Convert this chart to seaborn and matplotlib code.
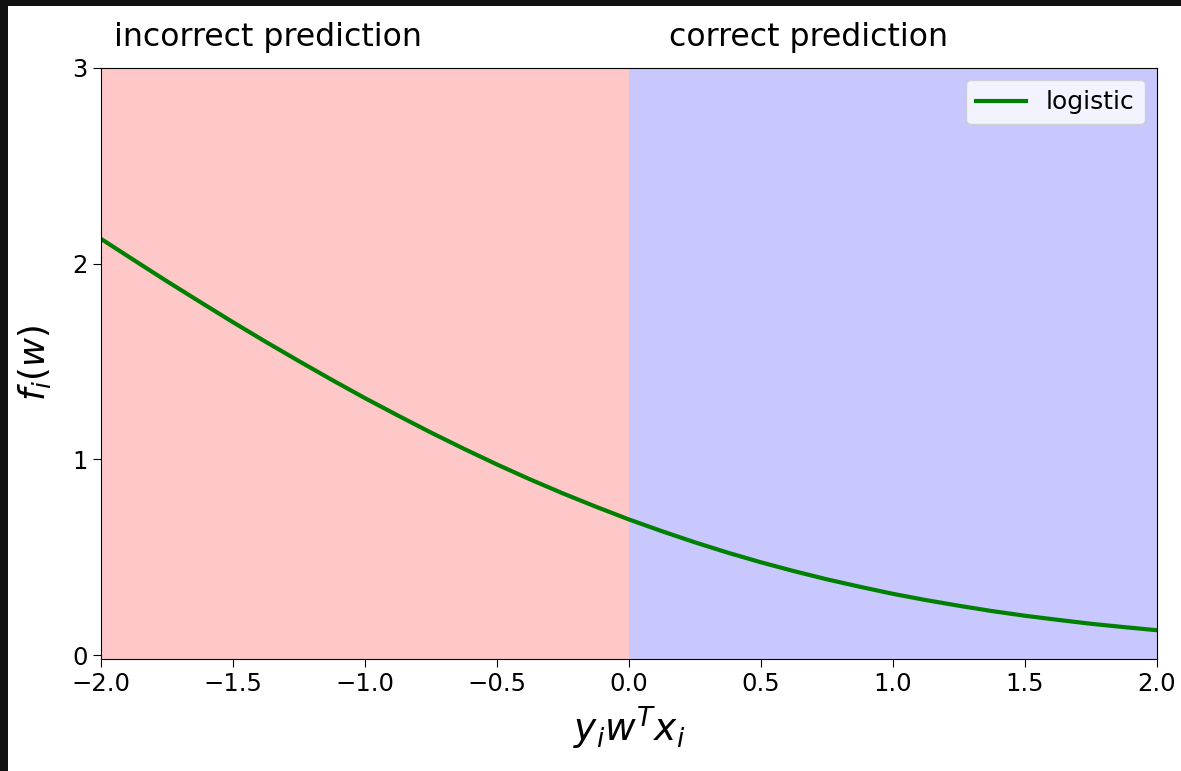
import numpy as np
import pandas as pd
import seaborn as sns
import matplotlib
import matplotlib.pyplot as plt
from matplotlib.patches import Rectangle

# values
margin = [-2.0, -1.875, -1.75, -1.625, -1.5, -1.375, -1.25, -1.125, -1.0,
          -0.875, -0.75, -0.625, -0.5, -0.375, -0.25, -0.125, 0.0,
          0.125, 0.25, 0.375, 0.5, 0.625, 0.75, 0.875, 1.0,
          1.125, 1.25, 1.375, 1.5, 1.625, 1.75, 1.875, 2.0]
loss = [2.127, 2.018, 1.910, 1.805, 1.701, 1.600, 1.502, 1.406, 1.313,
        1.224, 1.137, 1.054, 0.974, 0.898, 0.826, 0.758, 0.693,
        0.633, 0.576, 0.523, 0.474, 0.429, 0.387, 0.349, 0.313,
        0.281, 0.252, 0.225, 0.201, 0.180, 0.160, 0.143, 0.127]
region_labels = ['incorrect prediction', 'correct prediction']
x_ticks = [-2.0, -1.5, -1.0, -0.5, 0.0, 0.5, 1.0, 1.5, 2.0]
y_ticks = [0, 1, 2, 3]

df = pd.DataFrame({'margin': margin, 'loss': loss})

fig = plt.figure(figsize=(11.81, 7.71), dpi=100)
fig.patch.set_facecolor('#111111')
fig.patches.append(Rectangle((8 / 1181, 0), 1, 1 - 6 / 771,
                             transform=fig.transFigure, facecolor='white',
                             edgecolor='none', zorder=-10))
ax = fig.add_axes([101 / 1181, 1 - 659 / 771, (1157 - 101) / 1181,
                   (659 - 68) / 771])

ax.axvspan(-2, 0, color='#FFC8C8', lw=0)
ax.axvspan(0, 2, color='#C8C8FF', lw=0)
sns.lineplot(data=df, x='margin', y='loss', color='green', lw=3,
             label='logistic', ax=ax)

ax.set_xlim(-2, 2)
ax.set_ylim(-0.02, 3)
ax.set_xticks(x_ticks)
ax.set_yticks(y_ticks)
ax.tick_params(labelsize=17.5, length=6)
ax.set_xlabel(r'$y_iw^Tx_i$', fontsize=27, labelpad=6)
ax.set_ylabel(r'$f_i(w)$', fontsize=25.5, labelpad=14)

ax.text(-1.95, 3.11, region_labels[0], fontsize=22.7, va='baseline')
ax.text(0.15, 3.11, region_labels[1], fontsize=22.7, va='baseline')

ax.legend(loc='upper right', fontsize=18)

plt.savefig('out.png', dpi=100, facecolor=fig.get_facecolor())
